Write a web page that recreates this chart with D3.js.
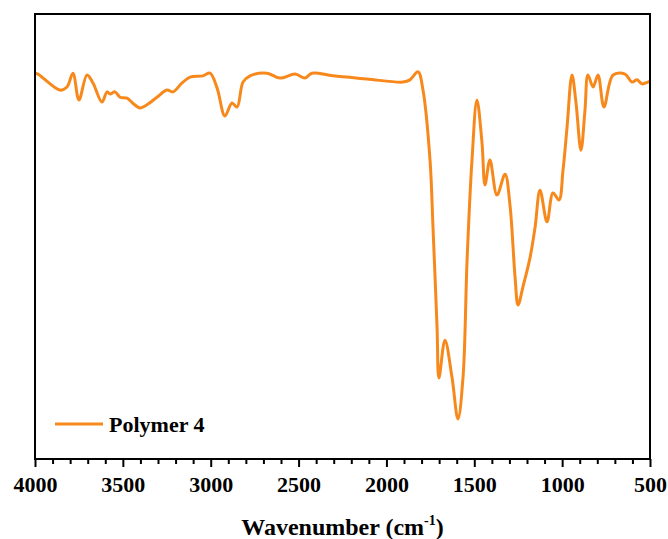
<!DOCTYPE html>
<html>
<head>
<meta charset="utf-8">
<script src="https://cdnjs.cloudflare.com/ajax/libs/d3/7.8.5/d3.min.js"></script>
<style>
  body { margin: 0; background: #fff; }
  text { font-family: "Liberation Serif", "Times New Roman", serif; font-weight: bold; }
</style>
</head>
<body>
<div id="chart"></div>
<script>
var width = 668, height = 539;
var margin = {left: 35, top: 14, right: 18, bottom: 80};

// FTIR spectrum (wavenumber, transmittance-like units)
var wavenumber = [4000, 3983, 3858, 3818, 3784, 3750, 3704, 3670, 3619, 3590, 3573, 3545, 3516, 3476, 3442, 3402,
    3363, 3306, 3249, 3215, 3163, 3118, 3044, 3004, 2964, 2919, 2879, 2850, 2816, 2776, 2680, 2606, 2520, 2463,
    2424, 2304, 2111, 1906, 1866, 1820, 1792, 1752, 1735, 1712, 1701, 1667, 1627, 1593, 1564, 1541, 1513, 1485,
    1456, 1439, 1411, 1371, 1325, 1297, 1268, 1251, 1223, 1183, 1154, 1126, 1086, 1052, 1018, 995, 972, 944,
    921, 893, 870, 853, 824, 796, 762, 710, 642, 603, 574, 546, 512, 500];
var transmittance = [86.7, 86.5, 82.9, 83.6, 86.7, 80.7, 86.3, 84.5, 80.2, 82.5, 82.0, 82.5, 81.3, 81.1, 79.9, 78.9,
    79.6, 81.3, 82.9, 82.5, 84.5, 85.8, 86.1, 86.7, 83.4, 77.1, 80.0, 79.1, 84.7, 86.1, 86.7, 85.6, 86.5, 85.6,
    86.7, 86.1, 85.4, 84.7, 85.2, 87.0, 82.9, 67.2, 52.1, 29.7, 18.2, 26.7, 18.4, 9.0, 18.4, 44.7, 67.2, 80.7,
    71.0, 61.6, 67.2, 59.3, 64.0, 57.1, 40.9, 34.6, 38.7, 45.2, 52.1, 60.4, 53.3, 59.8, 58.2, 64.9, 74.6, 86.3,
    80.0, 69.4, 78.4, 86.3, 83.6, 86.3, 79.1, 86.3, 86.5, 84.7, 85.2, 84.3, 84.7, 84.9];
var xTicks = [4000, 3500, 3000, 2500, 2000, 1500, 1000, 500];
var seriesName = "Polymer 4";

var svg = d3.select("#chart").append("svg")
    .attr("width", width)
    .attr("height", height);

var x = d3.scaleLinear()
    .domain([4000, 500])
    .range([margin.left, width - margin.right]);
var y = d3.scaleLinear()
    .domain([0, 100])
    .range([height - margin.bottom, margin.top]);

var pts = wavenumber.map(function(w, i) { return [w, transmittance[i]]; });

var line = d3.line()
    .x(function(d) { return x(d[0]); })
    .y(function(d) { return y(d[1]); })
    .curve(d3.curveCatmullRom.alpha(0.5));

svg.append("path")
    .datum(pts)
    .attr("d", line)
    .attr("fill", "none")
    .attr("stroke", "#f7891c")
    .attr("stroke-width", 3)
    .attr("stroke-linejoin", "round");

// frame
svg.append("rect")
    .attr("x", margin.left)
    .attr("y", margin.top)
    .attr("width", width - margin.left - margin.right)
    .attr("height", height - margin.top - margin.bottom)
    .attr("fill", "none")
    .attr("stroke", "black")
    .attr("stroke-width", 2);

// minor ticks
var minor = d3.range(4000, 499, -100).filter(function(v) { return xTicks.indexOf(v) < 0; });
var axisY = height - margin.bottom;
svg.append("g")
    .attr("transform", "translate(0," + axisY + ")")
    .call(d3.axisBottom(x).tickValues(minor).tickSize(5).tickFormat(""))
    .call(function(g) { g.select(".domain").remove(); })
    .selectAll("line").attr("stroke-width", 2);

var xAxis = svg.append("g")
    .attr("transform", "translate(0," + axisY + ")")
    .call(d3.axisBottom(x).tickValues(xTicks).tickSize(8).tickPadding(9).tickFormat(d3.format("d")));
xAxis.select(".domain").remove();
xAxis.selectAll("line").attr("stroke-width", 2);
xAxis.selectAll("text")
    .attr("font-size", "22px")
    .attr("fill", "black")
    .attr("font-family", "Liberation Serif, serif")
    .attr("font-weight", "bold");

// axis title
var title = svg.append("text")
    .attr("x", (margin.left + width - margin.right) / 2)
    .attr("y", 535)
    .attr("text-anchor", "middle")
    .attr("font-size", "24px");
title.append("tspan").text("Wavenumber (cm");
title.append("tspan").attr("font-size", "14px").attr("dy", -10).text("-1");
title.append("tspan").attr("dy", 10).text(")");

// legend
svg.append("line")
    .attr("x1", 55).attr("x2", 103)
    .attr("y1", 424).attr("y2", 424)
    .attr("stroke", "#f7891c")
    .attr("stroke-width", 3);
svg.append("text")
    .attr("x", 109)
    .attr("y", 432)
    .attr("font-size", "22px")
    .text(seriesName);
</script>
</body>
</html>
